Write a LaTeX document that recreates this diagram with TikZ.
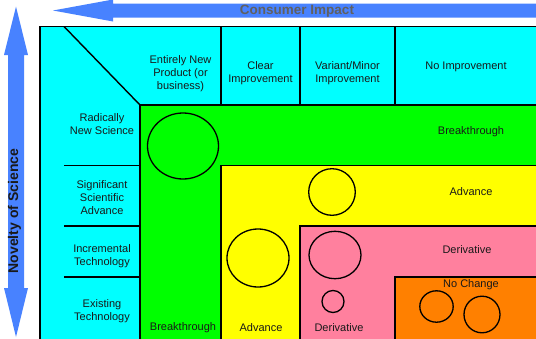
\documentclass[tikz,border=0pt]{standalone}
\usepackage{fontspec}
\setmainfont{Liberation Sans}
\definecolor{arrowblue}{RGB}{72,130,255}
\definecolor{cellcyan}{RGB}{0,255,255}
\definecolor{cellgreen}{RGB}{0,255,0}
\definecolor{cellyellow}{RGB}{255,255,0}
\definecolor{cellpink}{RGB}{255,128,158}
\definecolor{cellorange}{RGB}{255,128,0}
\definecolor{titlegray}{RGB}{96,96,96}
\begin{document}
\begin{tikzpicture}[x=1pt,y=-1pt,
    lbl/.style={align=center,text=black!90,inner sep=0pt,font=\fontsize{11}{13}\selectfont},
    region/.style={draw=black,line width=1.4pt},
    bubble/.style={draw=black,line width=1.3pt}]
            \useasboundingbox (0,0) rectangle (536,338);
            \clip (0,0) rectangle (536,338);

            % grid corners
            \coordinate (top) at (40,26.5);
            \coordinate (far) at (560,360);
            \coordinate (green) at (140,105);
            \coordinate (yellow) at (221,165.5);
            \coordinate (pink) at (300,226);
            \coordinate (orange) at (395,277);

            % axes
            \fill[arrowblue] (53,10.5) -- (113,-0.5) -- (113,3.5) -- (560,3.5) -- (560,17.5) -- (113,17.5) -- (113,21.5) -- cycle;
            \fill[arrowblue] (16,6.5) -- (28,55) -- (24,55) -- (24,288) -- (28,288) -- (16,337) -- (4,288) -- (8,288) -- (8,55) -- (4,55) -- cycle;
            \node[font=\fontsize{13.5}{16}\selectfont\bfseries,text=titlegray,inner sep=0pt] (impact) at (297,11.5) {Consumer Impact};
            \node[font=\fontsize{14}{16}\selectfont\bfseries,text=black!90,inner sep=0pt,rotate=90] (novelty) at (14.5,211) {Novelty of Science};

            % regions
            \filldraw[region,fill=cellcyan] (top) rectangle (far);
            \filldraw[region,fill=cellgreen] (green) rectangle (far);
            \filldraw[region,fill=cellyellow] (yellow) rectangle (far);
            \filldraw[region,fill=cellpink] (pink) rectangle (far);
            \filldraw[region,fill=cellorange] (orange) rectangle (far);

            % header and row lines
            \draw[region] (64,26.5) -- (green);
            \draw[region] (221,26.5) -- (221,105);
            \draw[region] (300,26.5) -- (300,105);
            \draw[region] (395,26.5) -- (395,105);
            \draw[region] (64,165.5) -- (140,165.5);
            \draw[region] (64,226) -- (140,226);
            \draw[region] (64,277) -- (140,277);

            \node[lbl] (newprod) at (180.5,73.5) {Entirely New\\Product (or\\business)};
            \node[lbl] (clear) at (260.5,73.5) {Clear\\Improvement};
            \node[lbl] (variant) at (347.5,73.5) {Variant/Minor\\Improvement};
            \node[lbl] (noimp) at (466,66.5) {No Improvement};

            \node[lbl] (radical) at (102,124.5) {Radically\\New Science};
            \node[lbl] (signif) at (102,198) {Significant\\Scientific\\Advance};
            \node[lbl] (increm) at (102,256.5) {Incremental\\Technology};
            \node[lbl] (exist) at (102,311.5) {Existing\\Technology};

            % region labels
            \node[lbl] (brk1) at (183,328) {Breakthrough};
            \node[lbl] (brk2) at (471,132) {Breakthrough};
            \node[lbl] (adv1) at (261,328) {Advance};
            \node[lbl] (adv2) at (471,192) {Advance};
            \node[lbl] (der1) at (339,328) {Derivative};
            \node[lbl] (der2) at (467,250) {Derivative};
            \node[lbl] (nochg) at (471,284.5) {No Change};

            % bubbles
            \draw[bubble] (183,146) ellipse (35.5 and 33);
            \draw[bubble] (332,192) circle (23.3);
            \draw[bubble] (258,258) ellipse (31 and 29);
            \draw[bubble] (335,255) ellipse (26 and 23.7);
            \draw[bubble] (333,301.5) circle (11);
            \draw[bubble] (436.5,306.5) ellipse (16.7 and 15.7);
            \draw[bubble] (482,314.5) ellipse (18 and 18.3);
        \end{tikzpicture}
\end{document}
